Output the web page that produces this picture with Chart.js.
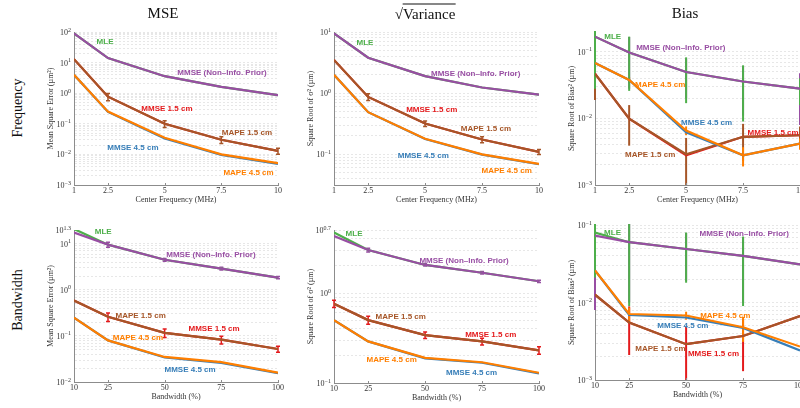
<!DOCTYPE html>
<html>
<head>
<meta charset="utf-8">
<script src="https://cdn.jsdelivr.net/npm/chart.js@4"></script>
<style>
  html, body { margin: 0; padding: 0; background: #fff; overflow: hidden; }
  #fig { position: relative; width: 800px; height: 408px; overflow: hidden; }
  #fig canvas { position: absolute; }
  .head { position: absolute; font-family: "Liberation Serif", serif; font-size: 15px; color: #111;
          transform: translate(-50%, -50%); white-space: nowrap; }
  .head .root { border-top: 1px solid #111; padding-top: 1px; }
  .rowlab { position: absolute; font-family: "Liberation Serif", serif; font-size: 14px; color: #111;
            transform: translate(-50%, -50%) rotate(-90deg); white-space: nowrap; }
</style>
</head>
<body>
<div id="fig">
  <canvas id="mseFreq" width="262" height="205" style="left:30px;top:0px"></canvas>
  <canvas id="varFreq" width="262" height="205" style="left:290px;top:0px"></canvas>
  <canvas id="biasFreq" width="280" height="205" style="left:552px;top:0px"></canvas>
  <canvas id="mseBw" width="262" height="203" style="left:30px;top:205px"></canvas>
  <canvas id="varBw" width="262" height="203" style="left:290px;top:205px"></canvas>
  <canvas id="biasBw" width="280" height="203" style="left:552px;top:205px"></canvas>

  <div class="head" style="left:163px;top:13px">MSE</div>
  <div class="head" style="left:425px;top:14px">√<span class="root">Variance</span></div>
  <div class="head" style="left:685px;top:13px">Bias</div>
  <div class="rowlab" style="left:18px;top:108px">Frequency</div>
  <div class="rowlab" style="left:18px;top:300px">Bandwidth</div>
</div>
<script>
const freqTicks = [1, 2.5, 5, 7.5, 10];
const bandwidthTicks = [10, 25, 50, 75, 100];

const seriesNames = ['MLE', 'MMSE (Non–Info. Prior)', 'MMSE 1.5 cm', 'MAPE 1.5 cm', 'MMSE 4.5 cm', 'MAPE 4.5 cm'];
const seriesColors = ['#4daf4a', '#984ea3', '#e41a1c', '#a65628', '#377eb8', '#ff7f00'];
const none = [0, 0, 0, 0, 0];

// rows follow seriesNames; values are means, *Err are standard deviations
const mseFreq = [
  [90, 14, 3.6, 1.6, 0.87],
  [90, 14, 3.6, 1.6, 0.87],
  [13, 0.77, 0.1, 0.03, 0.013],
  [13, 0.77, 0.1, 0.03, 0.013],
  [4, 0.245, 0.033, 0.0097, 0.0049],
  [4, 0.25, 0.035, 0.01, 0.0052]
];
const mseFreqErr = [none, none, none, [0, 0.2, 0.025, 0.0075, 0.0028], none, none];

const varFreq = [
  [9.5, 3.8, 1.9, 1.24, 0.95],
  [9.5, 3.8, 1.9, 1.24, 0.95],
  [3.5, 0.87, 0.32, 0.175, 0.11],
  [3.5, 0.87, 0.32, 0.175, 0.11],
  [2.0, 0.49, 0.178, 0.099, 0.069],
  [2.0, 0.49, 0.18, 0.1, 0.07]
];
const varFreqErr = [none, none, none, [0, 0.11, 0.033, 0.02, 0.01], none, none];

const biasFreq = [
  [0.17, 0.098, 0.05, 0.036, 0.028],
  [0.17, 0.098, 0.05, 0.036, 0.028],
  [0.047, 0.0099, 0.0028, 0.0053, 0.0056],
  [0.047, 0.0099, 0.0029, 0.0053, 0.0056],
  [0.068, 0.038, 0.0062, 0.0028, 0.0042],
  [0.068, 0.038, 0.0066, 0.0028, 0.0042]
];
const biasFreqErr = [
  [0.142, 0.072, 0.033, 0.027, 0.012],
  [0.14, 0.07, 0.03, 0.025, 0.02],
  none,
  [0.028, 0.006, 0.0022, 0.003, 0.002],
  none,
  [0.012, 0.004, 0.001, 0.0009, 0.0008]
];

const mseBw = [
  [21, 9.6, 4.5, 2.9, 1.85],
  [17.5, 9.6, 4.5, 2.9, 1.85],
  [0.59, 0.26, 0.117, 0.083, 0.052],
  [0.59, 0.26, 0.117, 0.083, 0.052],
  [0.25, 0.08, 0.034, 0.026, 0.0155],
  [0.25, 0.08, 0.035, 0.027, 0.016]
];
const mseBwErr = [none, [0, 1.2, 0.3, 0.2, 0.1], [0, 0.055, 0.024, 0.016, 0.0075], none, none, none];

const varBw = [
  [4.7, 3.0, 2.05, 1.68, 1.35],
  [4.3, 3.0, 2.05, 1.68, 1.35],
  [0.76, 0.5, 0.34, 0.29, 0.23],
  [0.76, 0.5, 0.34, 0.29, 0.23],
  [0.5, 0.29, 0.188, 0.168, 0.128],
  [0.5, 0.29, 0.19, 0.17, 0.13]
];
const varBwErr = [none, [0, 0.15, 0.06, 0.05, 0.04], [0.07, 0.05, 0.028, 0.025, 0.022], none, none, none];

const biasBw = [
  [0.08, 0.06, 0.049, 0.04, 0.031],
  [0.073, 0.06, 0.049, 0.04, 0.031],
  [0.0126, 0.0055, 0.0029, 0.0037, 0.0067],
  [0.0126, 0.0055, 0.0029, 0.0037, 0.0067],
  [0.026, 0.0069, 0.0064, 0.0047, 0.0024],
  [0.026, 0.0071, 0.0068, 0.0048, 0.0027]
];
const biasBwErr = [
  [0.059, 0.051, 0.031, 0.031, 0],
  [0.065, 0.05, 0.03, 0.03, 0],
  [0, 0.0034, 0.002, 0.0024, 0],
  [0.0045, 0, 0, 0, 0],
  none,
  [0.005, 0.0015, 0.0008, 0.0017, 0]
];

// where each series name is written, in data units (x, y)
const mseFreqLabelAt = [[2.37, 47], [7.53, 4.6], [5.1, 0.3], [8.63, 0.05], [3.6, 0.016], [8.7, 0.0025]];
const varFreqLabelAt = [[2.36, 6.7], [7.22, 2.1], [5.29, 0.54], [7.67, 0.26], [4.92, 0.095], [8.58, 0.053]];
const biasFreqLabelAt = [[1.78, 0.168], [4.77, 0.115], [8.82, 0.006], [3.42, 0.0028], [5.9, 0.0087], [3.86, 0.032]];
const mseBwLabelAt = [[22.9, 17.8], [70.4, 5.8], [71.8, 0.145], [39.4, 0.27], [61.2, 0.018], [38.2, 0.093]];
const varBwLabelAt = [[18.8, 4.5], [67.1, 2.3], [78.8, 0.34], [39.3, 0.54], [70.4, 0.13], [35.3, 0.18]];
const biasBwLabelAt = [[17.7, 0.08], [75.5, 0.076], [62, 0.0022], [38.7, 0.0025], [48.6, 0.005], [67.2, 0.0068]];

const axisColor = '#8c8c8c';
const serif = '"Liberation Serif", "Times New Roman", serif';
// bars of the later series sit under the MLE / MMSE ones
const barOrder = [2, 3, 4, 5, 1, 0];

const panels = [
  { id: 'mseFreq', box: [30, 0, 262, 205], area: [74, 278, 32, 185], xs: freqTicks, xTitle: 'Center Frequency (MHz)',
    yTitle: 'Mean Square Error (µm²)', yRange: [-3, 2], yExp: [2, 1, 0, -1, -2, -3],
    values: mseFreq, err: mseFreqErr, labelAt: mseFreqLabelAt, caps: true, barWidth: 1.5 },
  { id: 'varFreq', box: [290, 0, 262, 205], area: [334, 539, 32, 185], xs: freqTicks, xTitle: 'Center Frequency (MHz)',
    yTitle: 'Square Root of σ² (µm)', yRange: [-1.5, 1], yExp: [1, 0, -1],
    values: varFreq, err: varFreqErr, labelAt: varFreqLabelAt, caps: true, barWidth: 1.5 },
  { id: 'biasFreq', box: [552, 0, 280, 205], area: [595, 800, 32, 185], xs: freqTicks, xTitle: 'Center Frequency (MHz)',
    yTitle: 'Square Root of Bias² (µm)', yRange: [-3, -0.7], yExp: [-1, -2, -3],
    values: biasFreq, err: biasFreqErr, labelAt: biasFreqLabelAt, caps: false, barWidth: 2 },
  { id: 'mseBw', box: [30, 205, 262, 203], area: [74, 278, 230, 382], xs: bandwidthTicks, xTitle: 'Bandwidth (%)',
    yTitle: 'Mean Square Error (µm²)', yRange: [-2, 1.3], yExp: [1.3, 1, 0, -1, -2],
    values: mseBw, err: mseBwErr, labelAt: mseBwLabelAt, caps: true, barWidth: 1.5 },
  { id: 'varBw', box: [290, 205, 262, 203], area: [334, 539, 230, 383], xs: bandwidthTicks, xTitle: 'Bandwidth (%)',
    yTitle: 'Square Root of σ² (µm)', yRange: [-1, 0.7], yExp: [0.7, 0, -1],
    values: varBw, err: varBwErr, labelAt: varBwLabelAt, caps: true, barWidth: 1.5 },
  { id: 'biasBw', box: [552, 205, 280, 203], area: [595, 800, 225, 380], xs: bandwidthTicks, xTitle: 'Bandwidth (%)',
    yTitle: 'Square Root of Bias² (µm)', yRange: [-3, -1], yExp: [-1, -2, -3],
    values: biasBw, err: biasBwErr, labelAt: biasBwLabelAt, caps: false, barWidth: 2 }
];

// 1..9 x 10^k lines inside the range
const logGrid = (lo, hi) => {
  const out = [];
  for (let k = Math.floor(Math.log10(lo)); k <= Math.ceil(Math.log10(hi)); k++) {
    for (let m = 1; m <= 9; m++) {
      const v = m * Math.pow(10, k);
      if (v > lo * 1.0001 && v <= hi * 1.0001) out.push({ value: v });
    }
  }
  return out;
};

const panelOverlay = (p) => ({
  id: 'panelOverlay',
  beforeDatasetsDraw(chart) {
    const { ctx, chartArea: a, scales: { x, y } } = chart;
    ctx.save();
    ctx.beginPath();
    ctx.rect(a.left - 2, a.top - 1, a.right - a.left + 4, a.bottom - a.top + 1);
    ctx.clip();
    ctx.lineWidth = p.barWidth;
    barOrder.forEach(i => {
      ctx.strokeStyle = seriesColors[i];
      p.err[i].forEach((e, j) => {
        if (!e) return;
        const m = p.values[i][j];
        const px = x.getPixelForValue(p.xs[j]);
        const top = y.getPixelForValue(m + e);
        const bot = y.getPixelForValue(Math.max(m - e, y.min / 10));
        ctx.beginPath();
        ctx.moveTo(px, top);
        ctx.lineTo(px, bot);
        if (p.caps) {
          ctx.moveTo(px - 2, top); ctx.lineTo(px + 2, top);
          ctx.moveTo(px - 2, bot); ctx.lineTo(px + 2, bot);
        }
        ctx.stroke();
      });
    });
    ctx.restore();
  },
  afterDraw(chart) {
    const { ctx, chartArea: a, scales: { x, y } } = chart;
    ctx.save();
    // small inward ticks on the x axis
    ctx.strokeStyle = axisColor;
    ctx.lineWidth = 1;
    p.xs.forEach(v => {
      const px = Math.round(x.getPixelForValue(v)) + 0.5;
      ctx.beginPath();
      ctx.moveTo(px, a.bottom);
      ctx.lineTo(px, a.bottom - 2);
      ctx.stroke();
    });
    // decade labels as 10 with a raised exponent
    ctx.fillStyle = '#333';
    ctx.textAlign = 'right';
    ctx.textBaseline = 'alphabetic';
    p.yExp.forEach(e => {
      const py = y.getPixelForValue(Math.pow(10, e));
      const sup = String(e).replace('-', '−');
      ctx.font = '6px ' + serif;
      const sw = ctx.measureText(sup).width;
      ctx.fillText(sup, a.left - 3, py - 0.5);
      ctx.font = '8px ' + serif;
      ctx.fillText('10', a.left - 3 - sw, py + 3);
    });
    // series names inside the plot
    ctx.font = 'bold 8px "Liberation Sans", Arial, sans-serif';
    ctx.textAlign = 'center';
    ctx.textBaseline = 'middle';
    p.labelAt.forEach((pt, i) => {
      ctx.fillStyle = seriesColors[i];
      ctx.fillText(seriesNames[i], x.getPixelForValue(pt[0]), y.getPixelForValue(pt[1]));
    });
    ctx.restore();
  }
});

const drawOrder = [6, 5, 4, 3, 2, 1];

panels.forEach(p => {
  const [bx, by, bw, bh] = p.box;
  const [left, right, top, bottom] = p.area;
  const yAxisWidth = left - bx;
  const xAxisHeight = by + bh - bottom;
  const titleLine = 8 * 1.2;
  const yMin = Math.pow(10, p.yRange[0]);
  const yMax = Math.pow(10, p.yRange[1]);

  const datasets = p.values.map((row, i) => ({
    label: seriesNames[i],
    data: row.map((v, j) => ({ x: p.xs[j], y: v })),
    borderColor: seriesColors[i],
    borderWidth: 2.2,
    pointRadius: 0,
    tension: 0,
    fill: false,
    order: drawOrder[i]
  }));

  new Chart(document.getElementById(p.id), {
    type: 'line',
    data: { datasets },
    options: {
      responsive: false,
      animation: false,
      events: [],
      layout: { padding: { top: top - by, right: bx + bw - right, left: 0, bottom: 0 } },
      plugins: { legend: { display: false }, tooltip: { enabled: false } },
      scales: {
        x: {
          type: 'linear',
          min: p.xs[0],
          max: p.xs[p.xs.length - 1],
          afterBuildTicks: s => { s.ticks = p.xs.map(v => ({ value: v })); },
          afterFit: s => { s.height = xAxisHeight; s.paddingLeft = 0; s.paddingRight = 0; },
          grid: { display: false, drawTicks: false },
          border: { display: true, color: axisColor, width: 1 },
          ticks: {
            font: { family: serif, size: 8 }, color: '#333', padding: 1,
            maxRotation: 0, autoSkip: false, callback: v => String(v)
          },
          title: {
            display: true, text: p.xTitle, color: '#333',
            font: { family: serif, size: 8 },
            padding: { top: 0, bottom: Math.max(0, xAxisHeight - 15 - titleLine / 2) }
          }
        },
        y: {
          type: 'logarithmic',
          min: yMin,
          max: yMax,
          afterBuildTicks: s => { s.ticks = logGrid(yMin, yMax); },
          afterFit: s => { s.width = yAxisWidth; },
          grid: { color: '#e1e1e1', lineWidth: 0.8, drawTicks: false },
          border: { display: true, color: axisColor, width: 1, dash: [2, 2] },
          ticks: { display: false },
          title: {
            display: true, text: p.yTitle, color: '#333',
            font: { family: serif, size: 8 },
            padding: { top: yAxisWidth - 23 - titleLine / 2, bottom: 0 }
          }
        }
      }
    },
    plugins: [panelOverlay(p)]
  });
});
</script>
</body>
</html>
